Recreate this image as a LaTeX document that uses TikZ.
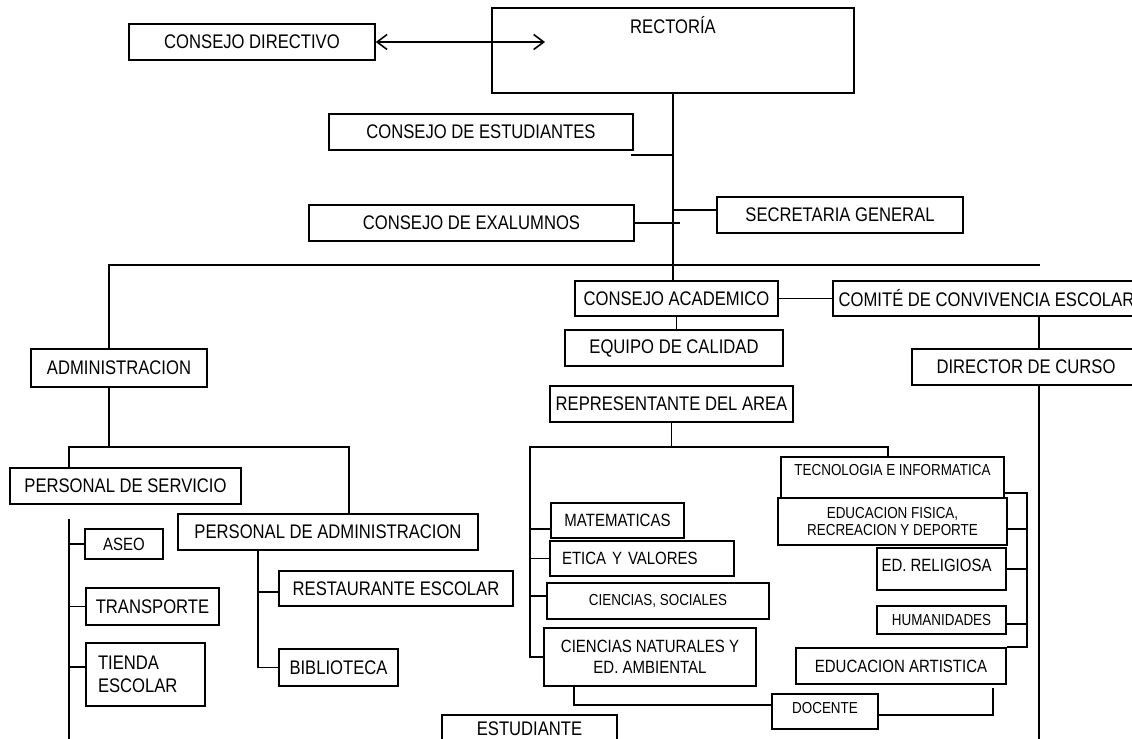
\documentclass[tikz,border=0pt]{standalone}
\usepackage{fontspec}
\setmainfont{Liberation Sans}[FakeStretch=0.845]
\usetikzlibrary{arrows.meta}

\begin{document}
\begin{tikzpicture}[x=0.02cm, y=-0.02cm, line width=0.9pt,
  font=\fontsize{11.2}{13}\selectfont,
  caja/.style={draw, inner sep=0pt, align=center},
  media/.style={font=\fontsize{10.1}{12}\selectfont},
  chica/.style={font=\fontsize{9.05}{9.5}\selectfont},
  >={Straight Barb[length=0.2cm,width=0.3cm]}]
  \useasboundingbox (0,0) rectangle (1132,738);

  % direccion
  \node[caja, minimum width=4.92cm, minimum height=0.72cm] (cdir) at (252,42) {CONSEJO DIRECTIVO};
  \node[caja, minimum width=7.24cm, minimum height=1.7cm, label={[anchor=north, yshift=-0.06cm]north:RECTORÍA}] (rect) at (673,50.5) {};
  \node[caja, minimum width=6.08cm, minimum height=0.72cm] (est) at (481,132) {CONSEJO DE ESTUDIANTES};
  \node[caja, minimum width=6.5cm, minimum height=0.72cm] (exa) at (471.5,223) {CONSEJO DE EXALUMNOS};
  \node[caja, minimum width=4.92cm, minimum height=0.72cm] (sec) at (840,215) {SECRETARIA GENERAL};

  % academico
  \node[caja, minimum width=4.06cm, minimum height=0.7cm] (acad) at (676.5,298.5) {CONSEJO ACADEMICO};
  \node[caja, minimum width=6.14cm, minimum height=0.7cm] (comite) at (986.5,298.5) {COMITÉ DE CONVIVENCIA ESCOLAR};
  \node[caja, minimum width=4.36cm, minimum height=0.72cm] (equipo) at (674,348) {EQUIPO DE CALIDAD};
  \node[caja, minimum width=4.56cm, minimum height=0.72cm] (director) at (1026,367) {DIRECTOR DE CURSO};
  \node[caja, minimum width=4.86cm, minimum height=0.72cm] (repr) at (671.5,404) {REPRESENTANTE DEL AREA};

  % areas
  \node[caja, media, minimum width=2.66cm, minimum height=0.7cm] (mat) at (617.5,520.5) {MATEMATICAS};
  \node[caja, media, text width=3.2cm, inner xsep=0.24cm, align=left, minimum height=0.7cm] (etica) at (642,558.5) {ETICA Y VALORES};
  \node[caja, chica, minimum width=4.44cm, minimum height=0.72cm] (csoc) at (658,601) {CIENCIAS, SOCIALES};
  \node[caja, media, minimum width=4.24cm, minimum height=1.16cm] (cnat) at (650,657) {CIENCIAS NATURALES Y\\ED. AMBIENTAL};
  \node[caja, minimum width=4.46cm, minimum height=0.82cm, label={[chica, anchor=north, yshift=-0.04cm]north:TECNOLOGIA E INFORMATICA}] (tec) at (892.5,477.5) {};
  \node[caja, chica, minimum width=4.58cm, minimum height=0.94cm] (fis) at (892.5,521.5) {EDUCACION FISICA,\\RECREACION Y DEPORTE};
  \node[caja, minimum width=2.58cm, minimum height=0.84cm, label={[media, anchor=north, xshift=-0.1cm, yshift=-0.11cm]north:ED. RELIGIOSA}] (relig) at (941.5,569) {};
  \node[caja, chica, minimum width=2.58cm, minimum height=0.56cm] (hum) at (941.5,620) {HUMANIDADES};
  \node[caja, media, minimum width=4.2cm, minimum height=0.72cm] (art) at (901,666) {EDUCACION ARTISTICA};
  \node[caja, minimum width=2.12cm, minimum height=0.7cm, label={[chica, anchor=north, yshift=-0.05cm]north:DOCENTE}] (docente) at (825,711.5) {};
  \node[caja, minimum width=3.5cm, minimum height=0.56cm] (estud) at (529.5,729) {ESTUDIANTE};

  % administracion
  \node[caja, minimum width=3.52cm, minimum height=0.76cm] (adm) at (119,368) {ADMINISTRACION};
  \node[caja, minimum width=4.62cm, minimum height=0.72cm] (ps) at (125.5,486) {PERSONAL DE SERVICIO};
  \node[caja, minimum width=6cm, minimum height=0.72cm] (pa) at (328,532) {PERSONAL DE ADMINISTRACION};
  \node[caja, media, minimum width=1.56cm, minimum height=0.6cm] (aseo) at (124,544) {ASEO};
  \node[caja, minimum width=2.66cm, minimum height=0.74cm] (transp) at (152.5,606.5) {TRANSPORTE};
  \node[caja, text width=1.9cm, inner xsep=0.24cm, align=left, minimum height=1.26cm] (tienda) at (145.5,674.5) {TIENDA\\ESCOLAR};
  \node[caja, minimum width=4.68cm, minimum height=0.7cm] (rest) at (396,588.5) {RESTAURANTE ESCOLAR};
  \node[caja, minimum width=2.38cm, minimum height=0.74cm] (bib) at (338.5,667.5) {BIBLIOTECA};

  % conexiones arriba
  \coordinate (flecha) at (545,42);
  \draw[<->] (cdir) -- (flecha);
  \coordinate (finbus) at (1040,265);
  \draw (rect.south) -- (rect.south |- acad.north);
  \draw ([xshift=-0.2cm]adm.north) |- (finbus);
  \draw ([shift={(-3,4)}]est.south east) coordinate (e1) -- (e1 -| rect.south);
  \draw (exa.east) -- ++(45,0);
  \draw ([yshift=0.1cm]sec.west) -- ++(-44,0);

  % conexiones academico
  \draw (acad) -- (comite);
  \draw (acad.south) -- (acad.south |- equipo.north);
  \draw ([xshift=1.05cm]comite.south) -- ([xshift=0.26cm]director.north);
  \coordinate (dirfin) at (1039,745);
  \draw ([xshift=0.26cm]director.south) -- (dirfin);

  % conexiones areas
  \coordinate (areasfin) at (530,656);
  \draw (repr.south) -- ++(0,24) coordinate (b2);
  \draw ([xshift=-0.09cm]tec.north) |- (b2) -| (areasfin);
  \draw ([yshift=-0.17cm]mat.west) -- ++(-21,0);
  \draw (etica.west) -- ++(-20,0);
  \draw ([yshift=0.1cm]csoc.west) -- ++(-17,0);
  \draw (cnat.west) -- ++(-14,0);
  \draw ([yshift=0.12cm]tec.south east) -- ++(22,0) coordinate (c1) -- (c1 |- art.north east) -- (art.north east);
  \draw ([yshift=-0.15cm]fis.east) -- ++(19,0);
  \draw (relig.east) -- ++(20,0);
  \draw ([yshift=-0.08cm]hum.east) -- ++(20,0);
  \draw ([xshift=-1.52cm]cnat.south) |- ([yshift=0.13cm]docente.west);
  \draw ([yshift=-0.07cm]docente.east) -| ([shift={(92,3)}]art.south);

  % conexiones administracion
  \draw ([xshift=-0.2cm]adm.south) -- ++(0,59) coordinate (b3);
  \draw ([xshift=-1.13cm]ps.north) |- (b3) -| ([xshift=0.42cm]pa.north);
  \coordinate (psfin) at (69,745);
  \draw ([shift={(-56.5,14)}]ps.south) -- (psfin);
  \draw (aseo.west) -- ++(-16,0);
  \draw (transp.west) -- ++(-17,0);
  \draw ([yshift=0.15cm]tienda.west) -- ++(-17,0);
  \draw ([xshift=-1.4cm]pa.south) |- (bib.west);
  \draw ([yshift=-0.07cm]rest.west) -- ++(-21,0);
\end{tikzpicture}
\end{document}
